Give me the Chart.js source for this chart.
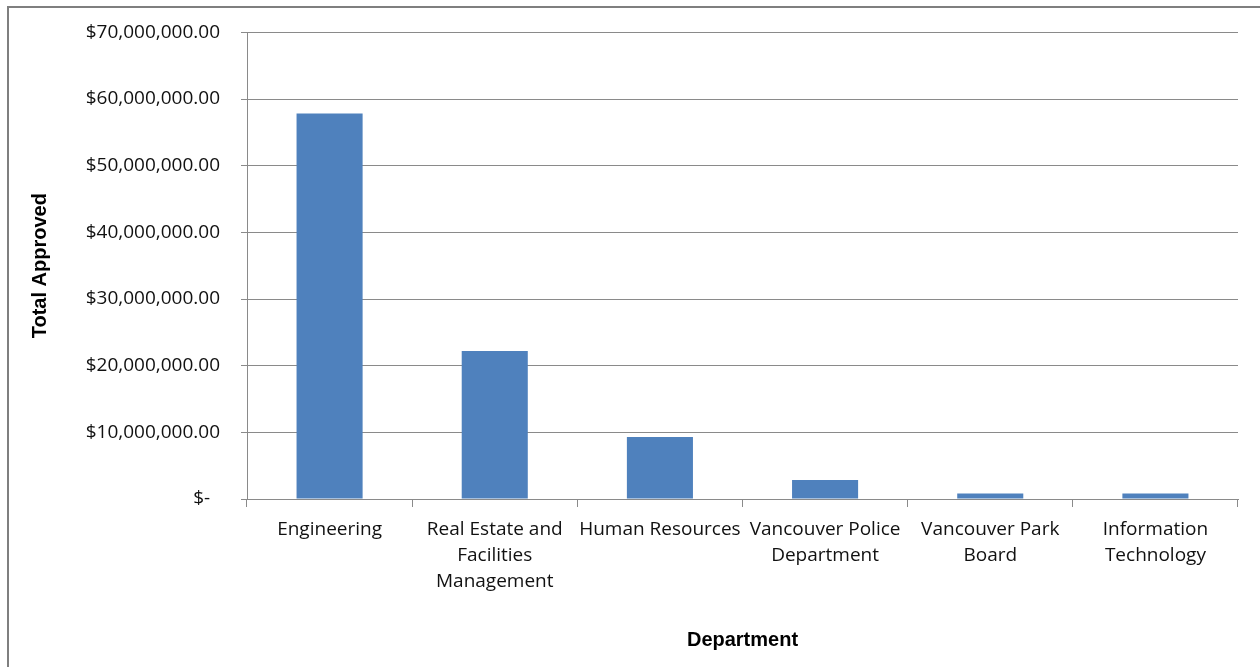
<!DOCTYPE html>
<html>
<head>
<meta charset="utf-8">
<script src="https://cdn.jsdelivr.net/npm/chart.js@4/dist/chart.umd.min.js"></script>
<style>
  html, body { margin: 0; padding: 0; background: #fff; }
  #wrap { position: relative; width: 1260px; height: 667px; overflow: hidden; }
  #c { position: absolute; left: 0; top: 0; }
  #frame { position: absolute; left: 7px; top: 6px; width: 1260px; height: 670px;
           border-left: 2px solid #7f7f7f; border-top: 2px solid #7f7f7f; pointer-events: none; }
</style>
</head>
<body>
<div id="wrap">
  <canvas id="c" width="1260" height="667"></canvas>
  <div id="frame"></div>
</div>
<script>
const categories = [
  'Engineering',
  ['Real Estate and', 'Facilities', 'Management'],
  'Human Resources',
  ['Vancouver Police', 'Department'],
  ['Vancouver Park', 'Board'],
  ['Information', 'Technology']
];
const totalApproved = [57850000, 22200000, 9300000, 2850000, 840000, 840000];
const yMin = 0;
const yMax = 70000000;
const yStep = 10000000;
const yTitle = 'Total Approved';
const xTitle = 'Department';

function fmtMoney(v) {
  if (v === 0) return '$-\u00a0\u00a0';
  return '$' + v.toLocaleString('en-US', { minimumFractionDigits: 2, maximumFractionDigits: 2 });
}

new Chart(document.getElementById('c'), {
  type: 'bar',
  data: {
    labels: categories,
    datasets: [{
      label: yTitle,
      data: totalApproved,
      backgroundColor: '#4f81bd',
      borderWidth: 0,
      barPercentage: 0.4,
      categoryPercentage: 1.0
    }]
  },
  options: {
    responsive: false,
    animation: false,
    events: [],
    layout: { padding: { top: 32, right: 22, bottom: 0, left: 0 } },
    plugins: { legend: { display: false }, tooltip: { enabled: false } },
    scales: {
      x: {
        grid: { display: true, drawOnChartArea: false, drawTicks: true, tickLength: 8, color: '#8a8a8a', offset: true },
        border: { display: true, color: '#8a8a8a', width: 1 },
        ticks: {
          autoSkip: false, maxRotation: 0, minRotation: 0, padding: 9,
          color: '#111', font: { family: '"Open Sans"', size: 19, lineHeight: 1.38 }
        },
        title: {
          display: true, text: xTitle, color: '#000',
          font: { family: '"Liberation Sans"', size: 20, weight: 'bold', lineHeight: 1.2 },
          padding: { top: 0, bottom: 15 }
        },
        afterFit: (s) => { s.height = 168; }
      },
      y: {
        min: yMin, max: yMax,
        grid: { color: '#8a8a8a', tickLength: 6, lineWidth: 1 },
        border: { display: true, color: '#8a8a8a', width: 1 },
        ticks: {
          stepSize: yStep, padding: 21, color: '#111',
          font: { family: '"Open Sans"', size: 19 },
          callback: (v) => fmtMoney(v)
        },
        title: {
          display: true, text: yTitle, color: '#000',
          font: { family: '"Liberation Sans"', size: 20, weight: 'bold', lineHeight: 1.2 },
          padding: { top: 28, bottom: 0 }
        },
        afterFit: (s) => { s.width = 247; }
      }
    }
  }
});
</script>
</body>
</html>
